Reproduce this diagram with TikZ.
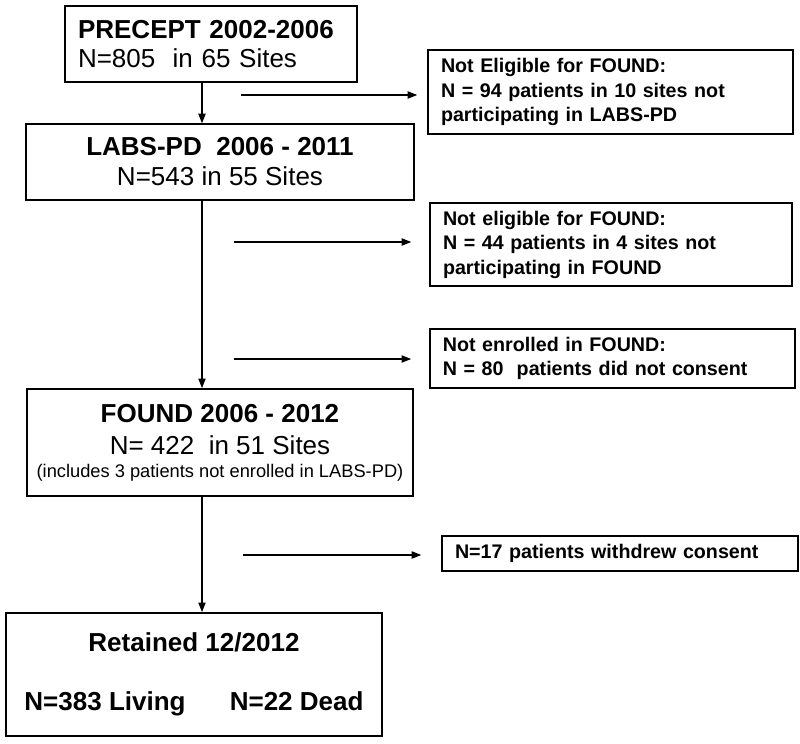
\documentclass[tikz,border=0pt]{standalone}
\usepackage{fontspec}
\setmainfont{Liberation Sans}
\usetikzlibrary{arrows.meta}

\newcommand{\bigfont}{\fontsize{18.5}{21}\selectfont}
\newcommand{\sidefont}{\fontsize{14}{17.4}\selectfont}

\begin{document}
\begin{tikzpicture}[
  box/.style={draw, line width=1pt, inner xsep=0.325cm, inner ysep=0pt},
  sidebox/.style={box, text width=8.475cm, align=left, font=\sidefont\bfseries},
  arr/.style={-{Triangle[length=2.4mm,width=1.8mm]}, line width=0.9pt}
]
  \useasboundingbox (0,0) rectangle (20,-18.575);

  \node[box, text width=6.65cm, minimum height=1.9cm, align=left, font=\bigfont] (precept) at (5.275,-1.1)
        {\textbf{PRECEPT 2002-2006}\\[-0.4pt] N=805\ \ in 65 Sites};
  \node[box, minimum width=9.7cm, minimum height=1.9cm, align=center, font=\bigfont] (labs) at (5.5,-4.05)
        {\textbf{LABS-PD\ \ 2006 - 2011}\\[0.3pt] N=543 in 55 Sites};
  \node[box, inner xsep=0.1cm, minimum width=9.65cm, minimum height=2.675cm, align=center, font=\bigfont] (found) at (5.5,-11.06)
        {\textbf{FOUND 2006 - 2012}\\[1.8pt] N= 422\ \ in 51 Sites\\[-4.6pt]
         {\fontsize{13}{16}\selectfont (includes 3 patients not enrolled in LABS-PD)}};
  \node[box, minimum width=9.4cm, minimum height=3.075cm, align=center, font=\bigfont\bfseries] (retained) at (4.85,-16.86)
        {Retained 12/2012\\[21pt] N=383 Living\hspace{1.7em}N=22 Dead};

  \node[sidebox, minimum height=2.1cm] (noelig1) at (15.2625,-2.3)
        {Not Eligible for FOUND:\\ N = 94 patients in 10 sites not\\ participating in LABS-PD};
  \node[sidebox, text width=8.4cm, minimum height=2.075cm] (noelig2) at (15.275,-6.1125)
        {Not eligible for FOUND:\\ N = 44 patients in 4 sites not\\ participating in FOUND};
  \node[sidebox, minimum height=1.475cm] (noenrol) at (15.31,-8.96)
        {Not enrolled in FOUND:\\ N = 80\ \ patients did not consent};
  \node[sidebox, text width=8.25cm, minimum height=0.875cm] (withdrew) at (15.5,-13.84)
        {N=17 patients withdrew consent};

  \coordinate (spine) at (5.05,0);
  \draw[arr] (precept.south -| spine) -- (labs.north -| spine);
  \draw[arr] (labs.south -| spine) -- (found.north -| spine);
  \draw[arr] (found.south -| spine) -- (retained.north -| spine);

  \coordinate (a1) at (6.025,-2.375);
  \coordinate (a2) at (5.85,-6.05);
  \coordinate (a3) at (5.85,-8.975);
  \coordinate (a4) at (6.075,-13.875);
  \draw[arr, shorten >=0.25cm] (a1) -- (a1 -| noelig1.west);
  \draw[arr, shorten >=0.45cm] (a2) -- (a2 -| noelig2.west);
  \draw[arr, shorten >=0.45cm] (a3) -- (a3 -| noenrol.west);
  \draw[arr, shorten >=0.5cm] (a4) -- (a4 -| withdrew.west);
\end{tikzpicture}
\end{document}
